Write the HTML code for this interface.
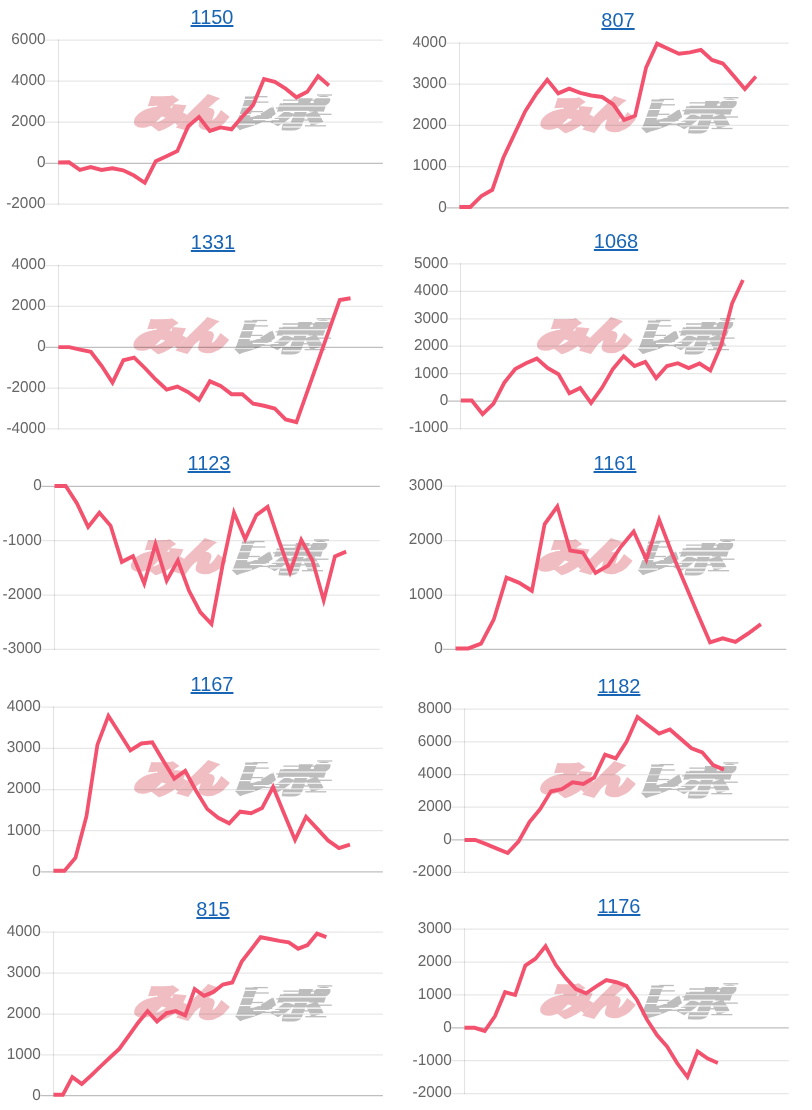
<!DOCTYPE html>
<html lang="ja">
<head>
<meta charset="utf-8">
<title>みんレポ</title>
<style>
html,body{margin:0;padding:0;background:#fff}
body{width:812px;height:1110px;position:relative;overflow:hidden;font-family:"Liberation Sans","Noto Sans CJK JP",sans-serif}
svg{position:absolute;left:0;top:0;display:block}
a.t{position:absolute;display:block;width:120px;margin-left:-60px;text-align:center;font-size:20.85px;line-height:24px;height:24px;color:#1965b5;text-decoration:underline;text-decoration-thickness:1.6px;text-underline-offset:1.3px;white-space:nowrap;transform:scaleX(0.956);transform-origin:center}
.yl{font-family:"Liberation Sans",sans-serif;font-size:15.7px;fill:#666666;text-anchor:end;text-rendering:geometricPrecision}
.wm{font-family:"Noto Sans CJK JP","Liberation Sans",sans-serif;font-weight:900}
</style>
</head>
<body>
<svg width="812" height="1110" viewBox="0 0 812 1110">
<defs>
<g id="wm">
<g transform="translate(0,35.5) skewX(-20)">
<text class="wm" stroke-linejoin="miter"><tspan x="-1.5" y="-4" font-size="36" textLength="48.5" lengthAdjust="spacingAndGlyphs" fill="#f0bec2" stroke="#f0bec2" stroke-width="4.2">み</tspan><tspan x="43.5" y="-4" font-size="36" textLength="46.5" lengthAdjust="spacingAndGlyphs" fill="#f0bec2" stroke="#f0bec2" stroke-width="4.2">ん</tspan><tspan x="95" y="-3.2" font-size="36" textLength="42" lengthAdjust="spacingAndGlyphs" fill="#bdbdbd" stroke="#bdbdbd" stroke-width="3.6">レ</tspan><tspan x="135" y="-2.6" font-size="34.5" textLength="52" lengthAdjust="spacingAndGlyphs" fill="#bdbdbd" stroke="#bdbdbd" stroke-width="2.6">ポ</tspan></text>
</g>
<g stroke="#bdbdbd" stroke-width="1.3">
<line x1="120" y1="2.7" x2="134.5" y2="2.7"/>
<line x1="120" y1="8.1" x2="135.5" y2="8.1"/>
<line x1="116" y1="17.6" x2="130" y2="17.6"/>
<line x1="112" y1="23.5" x2="139" y2="23.5"/>
<line x1="120" y1="27.5" x2="143" y2="27.5"/>
<line x1="150" y1="6.2" x2="192" y2="6.2"/>
<line x1="150" y1="9.6" x2="189" y2="9.6"/>
<line x1="176" y1="20.3" x2="198.5" y2="20.3"/>
<line x1="172" y1="31.8" x2="193" y2="31.8"/>
<line x1="170" y1="26" x2="188" y2="26"/>
<line x1="184" y1="1" x2="199" y2="1"/>
<line x1="143" y1="14" x2="160" y2="14"/>
</g>
<g stroke="#ffffff" stroke-width="1.15">
<line x1="108" y1="5.4" x2="124" y2="5.4"/>
<line x1="106" y1="12.8" x2="140" y2="12.8"/>
<line x1="104" y1="20.6" x2="128" y2="20.6"/>
<line x1="120" y1="25.6" x2="146" y2="25.6"/>
<line x1="100" y1="30.2" x2="122" y2="30.2"/>
<line x1="160" y1="3.6" x2="199" y2="3.6"/>
<line x1="146" y1="12" x2="199" y2="12"/>
<line x1="150" y1="17.4" x2="176" y2="17.4"/>
<line x1="142" y1="23.2" x2="199" y2="23.2"/>
<line x1="140" y1="29" x2="172" y2="29"/>
<line x1="176" y1="29" x2="199" y2="29"/>
<line x1="150" y1="33" x2="170" y2="33"/>
</g>
</g>
</defs>

<g>
<use href="#wm" x="133.0" y="94.0"/>
<line x1="45.1" y1="40.1" x2="382.8" y2="40.1" stroke="rgba(0,0,0,0.095)" stroke-width="1.25"/>
<line x1="45.1" y1="81.2" x2="382.8" y2="81.2" stroke="rgba(0,0,0,0.095)" stroke-width="1.25"/>
<line x1="45.1" y1="122.2" x2="382.8" y2="122.2" stroke="rgba(0,0,0,0.095)" stroke-width="1.25"/>
<line x1="45.1" y1="163.3" x2="382.8" y2="163.3" stroke="rgba(0,0,0,0.25)" stroke-width="1.25"/>
<line x1="45.1" y1="204.1" x2="382.8" y2="204.1" stroke="rgba(0,0,0,0.095)" stroke-width="1.25"/>
<line x1="58.5" y1="39.5" x2="58.5" y2="204.7" stroke="rgba(0,0,0,0.11)" stroke-width="1.1"/>
<text class="yl" transform="translate(45.5,43.95) scale(0.979,1)">6000</text>
<text class="yl" transform="translate(45.5,85.05) scale(0.979,1)">4000</text>
<text class="yl" transform="translate(45.5,126.05) scale(0.979,1)">2000</text>
<text class="yl" transform="translate(45.5,167.15) scale(0.979,1)">0</text>
<text class="yl" transform="translate(45.5,207.95) scale(0.979,1)">-2000</text>
<polyline transform="scale(0.94,1)" fill="none" stroke="#f3526f" stroke-width="3.95" stroke-linejoin="miter" stroke-linecap="butt" points="61.91,162.5 73.44,162.3 84.96,169.9 96.48,167.1 108.00,169.9 119.52,168.2 131.04,170.3 142.56,175.5 154.09,182.8 165.61,161.3 177.13,156.3 188.65,151.0 200.17,126.3 211.69,116.9 223.21,130.9 234.73,127.4 246.26,129.3 257.78,116.6 269.30,105.0 280.82,79.0 292.34,81.9 303.86,88.6 315.38,97.4 326.90,91.8 338.43,76.1 349.95,85.5"/>
</g>
<g>
<use href="#wm" x="539.5" y="96.7"/>
<line x1="446.3" y1="43.1" x2="788.8" y2="43.1" stroke="rgba(0,0,0,0.095)" stroke-width="1.25"/>
<line x1="446.3" y1="84.2" x2="788.8" y2="84.2" stroke="rgba(0,0,0,0.095)" stroke-width="1.25"/>
<line x1="446.3" y1="125.4" x2="788.8" y2="125.4" stroke="rgba(0,0,0,0.095)" stroke-width="1.25"/>
<line x1="446.3" y1="166.6" x2="788.8" y2="166.6" stroke="rgba(0,0,0,0.095)" stroke-width="1.25"/>
<line x1="446.3" y1="207.8" x2="788.8" y2="207.8" stroke="rgba(0,0,0,0.25)" stroke-width="1.25"/>
<line x1="459.5" y1="42.5" x2="459.5" y2="208.4" stroke="rgba(0,0,0,0.11)" stroke-width="1.1"/>
<text class="yl" transform="translate(446.7,46.95) scale(0.979,1)">4000</text>
<text class="yl" transform="translate(446.7,88.05) scale(0.979,1)">3000</text>
<text class="yl" transform="translate(446.7,129.25) scale(0.979,1)">2000</text>
<text class="yl" transform="translate(446.7,170.45) scale(0.979,1)">1000</text>
<text class="yl" transform="translate(446.7,211.65) scale(0.979,1)">0</text>
<polyline transform="scale(0.94,1)" fill="none" stroke="#f3526f" stroke-width="3.95" stroke-linejoin="miter" stroke-linecap="butt" points="488.72,206.9 500.40,206.9 512.09,196.0 523.77,189.8 535.45,157.7 547.13,134.3 558.81,111.2 570.49,93.9 582.17,79.8 593.85,93.4 605.53,88.6 617.21,92.8 628.89,95.5 640.57,97.0 652.26,104.3 663.94,120.0 675.62,115.8 687.30,67.7 698.98,43.6 710.66,48.8 722.34,53.7 734.02,52.4 745.70,49.9 757.38,59.9 769.06,63.5 780.74,76.1 792.43,89.0 804.11,76.5"/>
</g>
<g>
<use href="#wm" x="132.6" y="317.8"/>
<line x1="45.3" y1="265.5" x2="382.9" y2="265.5" stroke="rgba(0,0,0,0.095)" stroke-width="1.25"/>
<line x1="45.3" y1="306.4" x2="382.9" y2="306.4" stroke="rgba(0,0,0,0.095)" stroke-width="1.25"/>
<line x1="45.3" y1="347.4" x2="382.9" y2="347.4" stroke="rgba(0,0,0,0.25)" stroke-width="1.25"/>
<line x1="45.3" y1="388.1" x2="382.9" y2="388.1" stroke="rgba(0,0,0,0.095)" stroke-width="1.25"/>
<line x1="45.3" y1="428.8" x2="382.9" y2="428.8" stroke="rgba(0,0,0,0.095)" stroke-width="1.25"/>
<line x1="58.5" y1="264.9" x2="58.5" y2="429.4" stroke="rgba(0,0,0,0.11)" stroke-width="1.1"/>
<text class="yl" transform="translate(45.7,269.35) scale(0.979,1)">4000</text>
<text class="yl" transform="translate(45.7,310.25) scale(0.979,1)">2000</text>
<text class="yl" transform="translate(45.7,351.25) scale(0.979,1)">0</text>
<text class="yl" transform="translate(45.7,391.95) scale(0.979,1)">-2000</text>
<text class="yl" transform="translate(45.7,432.65) scale(0.979,1)">-4000</text>
<polyline transform="scale(0.94,1)" fill="none" stroke="#f3526f" stroke-width="3.95" stroke-linejoin="miter" stroke-linecap="butt" points="62.13,347.1 73.64,347.1 85.15,349.6 96.66,351.9 108.17,366.0 119.68,382.7 131.19,360.3 142.70,357.6 154.21,368.1 165.72,379.6 177.23,389.6 188.74,386.5 200.26,392.1 211.77,399.9 223.28,381.3 234.79,385.9 246.30,394.2 257.81,394.2 269.32,403.7 280.83,405.8 292.34,408.5 303.85,419.4 315.36,422.1 361.40,300.0 372.91,298.3"/>
</g>
<g>
<use href="#wm" x="536.0" y="317.8"/>
<line x1="447.8" y1="263.9" x2="786.3" y2="263.9" stroke="rgba(0,0,0,0.095)" stroke-width="1.25"/>
<line x1="447.8" y1="291.3" x2="786.3" y2="291.3" stroke="rgba(0,0,0,0.095)" stroke-width="1.25"/>
<line x1="447.8" y1="318.8" x2="786.3" y2="318.8" stroke="rgba(0,0,0,0.095)" stroke-width="1.25"/>
<line x1="447.8" y1="346.2" x2="786.3" y2="346.2" stroke="rgba(0,0,0,0.095)" stroke-width="1.25"/>
<line x1="447.8" y1="373.6" x2="786.3" y2="373.6" stroke="rgba(0,0,0,0.095)" stroke-width="1.25"/>
<line x1="447.8" y1="401.1" x2="786.3" y2="401.1" stroke="rgba(0,0,0,0.25)" stroke-width="1.25"/>
<line x1="447.8" y1="428.6" x2="786.3" y2="428.6" stroke="rgba(0,0,0,0.095)" stroke-width="1.25"/>
<line x1="460.5" y1="263.2" x2="460.5" y2="429.2" stroke="rgba(0,0,0,0.11)" stroke-width="1.1"/>
<text class="yl" transform="translate(448.2,267.70) scale(0.979,1)">5000</text>
<text class="yl" transform="translate(448.2,295.15) scale(0.979,1)">4000</text>
<text class="yl" transform="translate(448.2,322.60) scale(0.979,1)">3000</text>
<text class="yl" transform="translate(448.2,350.05) scale(0.979,1)">2000</text>
<text class="yl" transform="translate(448.2,377.50) scale(0.979,1)">1000</text>
<text class="yl" transform="translate(448.2,404.95) scale(0.979,1)">0</text>
<text class="yl" transform="translate(448.2,432.40) scale(0.979,1)">-1000</text>
<polyline transform="scale(0.94,1)" fill="none" stroke="#f3526f" stroke-width="3.95" stroke-linejoin="miter" stroke-linecap="butt" points="490.32,400.5 501.86,400.5 513.40,414.1 524.94,403.7 536.48,382.7 548.02,369.1 559.56,363.2 571.09,358.6 582.63,368.1 594.17,374.3 605.71,393.2 617.25,388.0 628.79,403.0 640.33,388.0 651.87,369.1 663.41,356.3 674.95,366.0 686.49,361.8 698.03,378.1 709.57,366.0 721.11,363.2 732.65,368.1 744.19,363.5 755.72,370.5 767.26,345.0 778.80,303.5 790.34,280.0"/>
</g>
<g>
<use href="#wm" x="130.0" y="538.9"/>
<line x1="41.4" y1="486.4" x2="379.8" y2="486.4" stroke="rgba(0,0,0,0.25)" stroke-width="1.25"/>
<line x1="41.4" y1="540.6" x2="379.8" y2="540.6" stroke="rgba(0,0,0,0.095)" stroke-width="1.25"/>
<line x1="41.4" y1="595.0" x2="379.8" y2="595.0" stroke="rgba(0,0,0,0.095)" stroke-width="1.25"/>
<line x1="41.4" y1="649.4" x2="379.8" y2="649.4" stroke="rgba(0,0,0,0.095)" stroke-width="1.25"/>
<line x1="54.5" y1="485.8" x2="54.5" y2="650.0" stroke="rgba(0,0,0,0.11)" stroke-width="1.1"/>
<text class="yl" transform="translate(41.8,490.20) scale(0.979,1)">0</text>
<text class="yl" transform="translate(41.8,544.50) scale(0.979,1)">-1000</text>
<text class="yl" transform="translate(41.8,598.90) scale(0.979,1)">-2000</text>
<text class="yl" transform="translate(41.8,653.20) scale(0.979,1)">-3000</text>
<polyline transform="scale(0.94,1)" fill="none" stroke="#f3526f" stroke-width="3.95" stroke-linejoin="miter" stroke-linecap="butt" points="57.98,485.9 69.91,485.9 81.84,503.3 93.78,526.9 105.71,512.7 117.64,525.7 129.58,561.9 141.51,556.2 153.44,583.5 165.38,544.2 177.31,580.8 189.24,560.6 201.17,591.0 213.11,612.2 225.04,624.1 236.97,564.5 248.91,512.6 260.84,539.2 272.77,515.0 284.71,506.9 296.64,540.3 308.57,572.0 320.50,539.9 332.44,560.5 344.37,600.4 356.30,556.4 368.24,551.7"/>
</g>
<g>
<use href="#wm" x="536.0" y="538.9"/>
<line x1="442.5" y1="486.1" x2="786.3" y2="486.1" stroke="rgba(0,0,0,0.095)" stroke-width="1.25"/>
<line x1="442.5" y1="540.5" x2="786.3" y2="540.5" stroke="rgba(0,0,0,0.095)" stroke-width="1.25"/>
<line x1="442.5" y1="595.0" x2="786.3" y2="595.0" stroke="rgba(0,0,0,0.095)" stroke-width="1.25"/>
<line x1="442.5" y1="649.4" x2="786.3" y2="649.4" stroke="rgba(0,0,0,0.25)" stroke-width="1.25"/>
<line x1="455.5" y1="485.5" x2="455.5" y2="650.0" stroke="rgba(0,0,0,0.11)" stroke-width="1.1"/>
<text class="yl" transform="translate(442.9,490.00) scale(0.979,1)">3000</text>
<text class="yl" transform="translate(442.9,544.40) scale(0.979,1)">2000</text>
<text class="yl" transform="translate(442.9,598.80) scale(0.979,1)">1000</text>
<text class="yl" transform="translate(442.9,653.20) scale(0.979,1)">0</text>
<polyline transform="scale(0.94,1)" fill="none" stroke="#f3526f" stroke-width="3.95" stroke-linejoin="miter" stroke-linecap="butt" points="484.68,648.4 498.21,648.4 511.74,643.6 525.28,619.5 538.81,577.6 552.34,582.8 565.87,590.8 579.40,524.2 592.94,506.4 606.47,550.4 620.00,552.5 633.53,573.0 647.06,565.4 660.60,546.7 674.13,531.5 687.66,559.8 701.19,519.7 714.72,552.9 728.26,582.9 741.79,613.0 755.32,642.3 768.85,638.3 782.38,641.9 795.91,633.5 809.45,624.1"/>
</g>
<g>
<use href="#wm" x="133.3" y="760.0"/>
<line x1="40.4" y1="707.1" x2="382.9" y2="707.1" stroke="rgba(0,0,0,0.095)" stroke-width="1.25"/>
<line x1="40.4" y1="748.4" x2="382.9" y2="748.4" stroke="rgba(0,0,0,0.095)" stroke-width="1.25"/>
<line x1="40.4" y1="789.5" x2="382.9" y2="789.5" stroke="rgba(0,0,0,0.095)" stroke-width="1.25"/>
<line x1="40.4" y1="830.6" x2="382.9" y2="830.6" stroke="rgba(0,0,0,0.095)" stroke-width="1.25"/>
<line x1="40.4" y1="871.8" x2="382.9" y2="871.8" stroke="rgba(0,0,0,0.25)" stroke-width="1.25"/>
<line x1="53.5" y1="706.5" x2="53.5" y2="872.4" stroke="rgba(0,0,0,0.11)" stroke-width="1.1"/>
<text class="yl" transform="translate(40.8,711.00) scale(0.979,1)">4000</text>
<text class="yl" transform="translate(40.8,752.20) scale(0.979,1)">3000</text>
<text class="yl" transform="translate(40.8,793.30) scale(0.979,1)">2000</text>
<text class="yl" transform="translate(40.8,834.50) scale(0.979,1)">1000</text>
<text class="yl" transform="translate(40.8,875.60) scale(0.979,1)">0</text>
<polyline transform="scale(0.94,1)" fill="none" stroke="#f3526f" stroke-width="3.95" stroke-linejoin="miter" stroke-linecap="butt" points="56.91,870.8 68.60,870.8 80.28,857.8 91.96,816.3 103.64,744.7 115.32,715.8 127.00,733.0 138.68,750.4 150.36,743.5 162.04,742.4 173.72,760.9 185.40,778.7 197.09,770.9 208.77,791.2 220.45,809.0 232.13,817.8 243.81,823.3 255.49,811.7 267.17,813.2 278.85,808.0 290.53,787.0 302.21,813.6 313.89,840.0 325.57,816.8 337.26,828.5 348.94,840.4 360.62,848.2 372.30,844.6"/>
</g>
<g>
<use href="#wm" x="539.3" y="761.9"/>
<line x1="451.4" y1="709.1" x2="788.8" y2="709.1" stroke="rgba(0,0,0,0.095)" stroke-width="1.25"/>
<line x1="451.4" y1="741.8" x2="788.8" y2="741.8" stroke="rgba(0,0,0,0.095)" stroke-width="1.25"/>
<line x1="451.4" y1="774.5" x2="788.8" y2="774.5" stroke="rgba(0,0,0,0.095)" stroke-width="1.25"/>
<line x1="451.4" y1="807.0" x2="788.8" y2="807.0" stroke="rgba(0,0,0,0.095)" stroke-width="1.25"/>
<line x1="451.4" y1="839.8" x2="788.8" y2="839.8" stroke="rgba(0,0,0,0.25)" stroke-width="1.25"/>
<line x1="451.4" y1="872.4" x2="788.8" y2="872.4" stroke="rgba(0,0,0,0.095)" stroke-width="1.25"/>
<line x1="464.5" y1="708.5" x2="464.5" y2="873.0" stroke="rgba(0,0,0,0.11)" stroke-width="1.1"/>
<text class="yl" transform="translate(451.8,713.00) scale(0.979,1)">8000</text>
<text class="yl" transform="translate(451.8,745.60) scale(0.979,1)">6000</text>
<text class="yl" transform="translate(451.8,778.30) scale(0.979,1)">4000</text>
<text class="yl" transform="translate(451.8,810.90) scale(0.979,1)">2000</text>
<text class="yl" transform="translate(451.8,843.60) scale(0.979,1)">0</text>
<text class="yl" transform="translate(451.8,876.20) scale(0.979,1)">-2000</text>
<polyline transform="scale(0.94,1)" fill="none" stroke="#f3526f" stroke-width="3.95" stroke-linejoin="miter" stroke-linecap="butt" points="494.15,840.0 505.65,840.0 517.15,844.2 528.65,848.6 540.15,853.0 551.65,841.5 563.15,822.2 574.65,809.0 586.15,791.2 597.65,789.1 609.15,782.2 620.65,783.9 632.15,777.6 643.65,754.6 655.15,758.3 666.65,741.6 678.15,716.9 689.65,725.3 701.15,733.6 712.65,729.5 724.15,738.9 735.65,748.3 747.15,752.5 758.65,765.0 770.15,769.7"/>
</g>
<g>
<use href="#wm" x="133.3" y="984.9"/>
<line x1="40.4" y1="932.1" x2="382.9" y2="932.1" stroke="rgba(0,0,0,0.095)" stroke-width="1.25"/>
<line x1="40.4" y1="973.0" x2="382.9" y2="973.0" stroke="rgba(0,0,0,0.095)" stroke-width="1.25"/>
<line x1="40.4" y1="1014.0" x2="382.9" y2="1014.0" stroke="rgba(0,0,0,0.095)" stroke-width="1.25"/>
<line x1="40.4" y1="1054.8" x2="382.9" y2="1054.8" stroke="rgba(0,0,0,0.095)" stroke-width="1.25"/>
<line x1="40.4" y1="1095.7" x2="382.9" y2="1095.7" stroke="rgba(0,0,0,0.25)" stroke-width="1.25"/>
<line x1="53.5" y1="931.5" x2="53.5" y2="1096.2" stroke="rgba(0,0,0,0.11)" stroke-width="1.1"/>
<text class="yl" transform="translate(40.8,936.00) scale(0.979,1)">4000</text>
<text class="yl" transform="translate(40.8,976.90) scale(0.979,1)">3000</text>
<text class="yl" transform="translate(40.8,1017.80) scale(0.979,1)">2000</text>
<text class="yl" transform="translate(40.8,1058.60) scale(0.979,1)">1000</text>
<text class="yl" transform="translate(40.8,1099.50) scale(0.979,1)">0</text>
<polyline transform="scale(0.94,1)" fill="none" stroke="#f3526f" stroke-width="3.95" stroke-linejoin="miter" stroke-linecap="butt" points="56.91,1094.8 66.93,1094.8 76.94,1077.0 86.95,1083.9 96.96,1075.4 106.97,1066.4 116.98,1057.6 126.99,1048.8 137.00,1035.7 147.01,1022.6 157.02,1011.1 167.03,1021.5 177.04,1013.2 187.05,1011.1 197.06,1015.3 207.07,989.1 217.09,995.8 227.10,991.9 237.11,984.5 247.12,982.5 257.13,961.6 267.14,949.4 277.15,937.2 287.16,939.0 297.17,940.9 307.18,942.4 317.19,948.7 327.20,945.1 337.21,933.6 347.22,937.2"/>
</g>
<g>
<use href="#wm" x="539.3" y="982.8"/>
<line x1="451.4" y1="929.0" x2="788.8" y2="929.0" stroke="rgba(0,0,0,0.095)" stroke-width="1.25"/>
<line x1="451.4" y1="962.0" x2="788.8" y2="962.0" stroke="rgba(0,0,0,0.095)" stroke-width="1.25"/>
<line x1="451.4" y1="994.9" x2="788.8" y2="994.9" stroke="rgba(0,0,0,0.095)" stroke-width="1.25"/>
<line x1="451.4" y1="1027.8" x2="788.8" y2="1027.8" stroke="rgba(0,0,0,0.25)" stroke-width="1.25"/>
<line x1="451.4" y1="1060.7" x2="788.8" y2="1060.7" stroke="rgba(0,0,0,0.095)" stroke-width="1.25"/>
<line x1="451.4" y1="1093.5" x2="788.8" y2="1093.5" stroke="rgba(0,0,0,0.095)" stroke-width="1.25"/>
<line x1="464.5" y1="928.4" x2="464.5" y2="1094.1" stroke="rgba(0,0,0,0.11)" stroke-width="1.1"/>
<text class="yl" transform="translate(451.8,932.90) scale(0.979,1)">3000</text>
<text class="yl" transform="translate(451.8,965.80) scale(0.979,1)">2000</text>
<text class="yl" transform="translate(451.8,998.70) scale(0.979,1)">1000</text>
<text class="yl" transform="translate(451.8,1031.60) scale(0.979,1)">0</text>
<text class="yl" transform="translate(451.8,1064.50) scale(0.979,1)">-1000</text>
<text class="yl" transform="translate(451.8,1097.40) scale(0.979,1)">-2000</text>
<polyline transform="scale(0.94,1)" fill="none" stroke="#f3526f" stroke-width="3.95" stroke-linejoin="miter" stroke-linecap="butt" points="494.15,1027.8 504.93,1027.8 515.71,1031.0 526.49,1016.3 537.27,992.2 548.05,995.0 558.83,965.6 569.61,958.7 580.40,946.2 591.18,965.0 601.96,978.2 612.74,989.1 623.52,993.3 634.30,986.4 645.08,980.1 655.86,982.2 666.64,986.0 677.42,999.6 688.20,1019.5 698.99,1035.2 709.77,1046.7 720.55,1063.4 731.33,1077.0 742.11,1051.5 752.89,1058.6 763.67,1063.0"/>
</g>
</svg>
<a class="t" style="left:212.2px;top:5.3px">1150</a>
<a class="t" style="left:618.2px;top:8.2px">807</a>
<a class="t" style="left:212.8px;top:230.3px">1331</a>
<a class="t" style="left:615.5px;top:229.3px">1068</a>
<a class="t" style="left:209.1px;top:451.3px">1123</a>
<a class="t" style="left:615.4px;top:451.3px">1161</a>
<a class="t" style="left:212.1px;top:672.3px">1167</a>
<a class="t" style="left:618.6px;top:674.3px">1182</a>
<a class="t" style="left:212.6px;top:897.3px">815</a>
<a class="t" style="left:618.6px;top:894.3px">1176</a>
</body>
</html>
